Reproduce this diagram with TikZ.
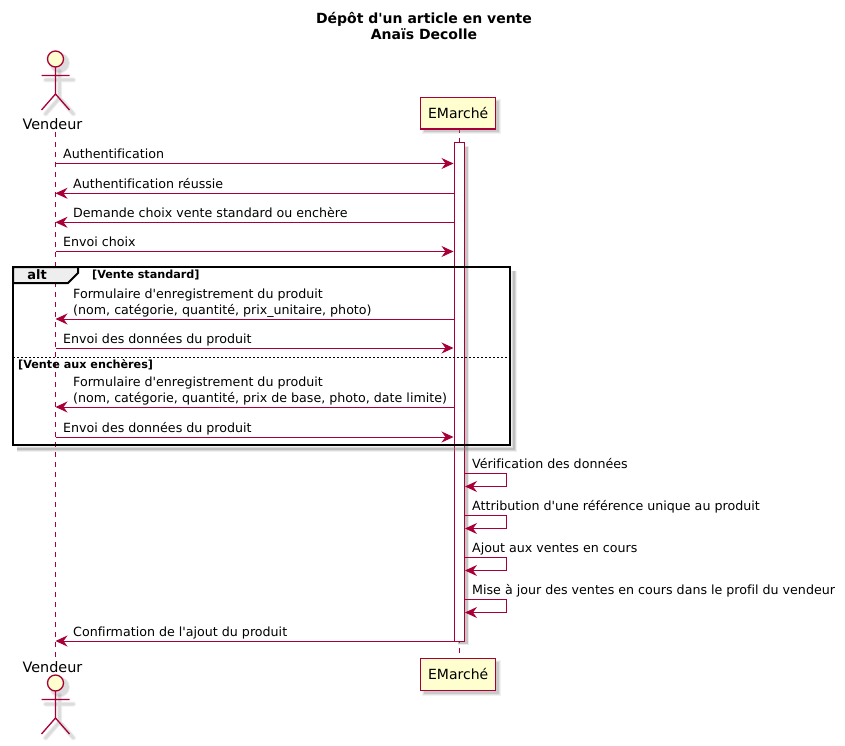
\documentclass[tikz,border=0pt]{standalone}
\usepackage{fontspec}
\usepackage{tikz}
\usetikzlibrary{arrows.meta, positioning}
\newfontfamily\police[Ligatures=NoCommon]{DejaVu Sans}
\definecolor{bordeaux}{HTML}{A80036}
\definecolor{creme}{HTML}{FEFECE}
\definecolor{onglet}{HTML}{EEEEEE}
\tikzset{
	msg/.style={draw=bordeaux, line width=1pt, -{Stealth[length=12pt,width=11pt,inset=4pt]}},
	lifeline/.style={draw=bordeaux, line width=1pt, dash pattern=on 5pt off 5pt},
	txt/.style={font=\police\fontsize{12.65}{16}\selectfont, inner sep=0pt, anchor=base west},
	txtdouble/.style={font=\police\fontsize{12.65}{16}\selectfont, inner sep=0pt, anchor=south west, align=left},
	cadre/.style={font=\police\bfseries\fontsize{11.2}{12}\selectfont, inner sep=0pt, anchor=base west},
	boite/.style={draw=bordeaux, line width=1.3pt, fill=creme},
}
\begin{document}
\begin{tikzpicture}[x=1pt,y=-1pt]
	\useasboundingbox (0,0) rectangle (845,746);
	% Titre
	\node[font=\police\bfseries\fontsize{14}{16}\selectfont, align=center] (titre) at (424,26) {Dépôt d'un article en vente\\Anaïs Decolle};

	% Lignes de vie
	\coordinate (vhaut) at (55.5,132);
	\coordinate (vbas) at (55.5,657);
	\coordinate (ehaut) at (459.5,128);
	\coordinate (ebas) at (459.5,658);
	\draw[lifeline] (vhaut) -- (vbas);
	\draw[lifeline] (ehaut) -- (ebas);

	% Acteur Vendeur, en haut et en bas
	\foreach \nom/\y in {acteurhaut/59, acteurbas/683} {
		\begin{scope}[shift={(55.5,\y)}]
			\foreach \w/\o in {5/0.12, 3/0.18} {
				\fill[gray, opacity=\o] (4,4) circle (8+\w/2);
				\draw[gray, opacity=\o, line width=\w pt, line cap=round] (-10,21) -- (18,21) (4,12) -- (4,39) -- (-10,55) (4,39) -- (18,55);
			}
			\draw[boite] (0,0) circle (8);
			\draw[bordeaux, line width=1.3pt] (0,8) -- (0,35) (-14,16.5) -- (14,16.5) (-14,51) -- (0,35) -- (14,51);
			\coordinate (\nom) at (0,0);
		\end{scope}
	}
	\node[txt, anchor=base, font=\police\fontsize{14.4}{16}\selectfont] (vendeurhaut) at (52.5,130) {Vendeur};
	\node[txt, anchor=base, font=\police\fontsize{14.4}{16}\selectfont] (vendeurbas) at (52.5,672) {Vendeur};

	% Participant EMarché, en haut et en bas
	\foreach \nom/\y in {emarchehaut/97, emarchebas/658} {
		\foreach \w/\o in {4/0.1, 2/0.15, 0/0.25} {
			\fill[gray, opacity=\o] (424-\w/2,\y+4-\w/2) rectangle (499+\w/2,\y+35.5+\w/2);
		}
		\node[boite, minimum width=75pt, minimum height=31.5pt, inner sep=0pt, anchor=north west, font=\police\fontsize{14}{16}\selectfont] (\nom) at (420,\y) {EMarché};
	}

	% Activation
	\foreach \w/\o in {2/0.15, 0/0.35} {
		\fill[gray, opacity=\o] (465,147-\w/2) rectangle (468+\w/2,644+\w/2);
		\fill[gray, opacity=\o] (458,641.5) rectangle (465,644+\w/2);
	}
	\draw[draw=bordeaux, line width=1pt, fill=white] (454.5,143) rectangle (464.5,641);

	% Cadre alt
	\foreach \w/\o in {6/0.12, 4/0.2, 2/0.3} {
		\draw[gray, opacity=\o, line width=\w pt] (510+4,271) -- (510+4,449) -- (17,449);
	}
	\draw[black, line width=2pt] (13,267) rectangle (510,445);
	\draw[black, line width=2pt, fill=onglet] (13,267) -- (78,267) -- (78,273) -- (68,283) -- (13,283) -- cycle;
	\node[font=\police\bfseries\fontsize{13}{16}\selectfont, inner sep=0pt, anchor=base] (alt) at (37,279) {alt};
	\node[cadre] (venteone) at (92,278) {[Vente standard]};
	\coordinate (sepg) at (13,357.5);
	\coordinate (sepd) at (510,357.5);
	\draw[black, line width=1pt, dash pattern=on 2pt off 2pt] (sepg) -- (sepd);
	\node[cadre] (ventetwo) at (18,368) {[Vente aux enchères]};

	% Messages vers EMarché
	\foreach \nom/\y/\txtmsg in {auth/163.5/Authentification, choix/251.5/Envoi choix, donneesone/348/Envoi des données du produit, donneestwo/437/Envoi des données du produit} {
		\coordinate (v\nom) at (55.5,\y);
		\coordinate (e\nom) at (453.5,\y);
		\draw[msg] (v\nom) -- (e\nom);
		\node[txt] (l\nom) at (63,\y-4.8) {\txtmsg};
	}
	% Messages vers Vendeur
	\foreach \nom/\y/\txtmsg in {reussie/193.3/Authentification réussie, demande/222.3/Demande choix vente standard ou enchère, confirmation/641/Confirmation de l'ajout du produit} {
		\coordinate (v\nom) at (55.5,\y);
		\coordinate (e\nom) at (454.5,\y);
		\draw[msg] (e\nom) -- (v\nom);
		\node[txt] (l\nom) at (73,\y-4.8) {\txtmsg};
	}
	% Formulaires sur deux lignes
	\foreach \nom/\y/\txtmsg in {formone/319/{Formulaire d'enregistrement du produit\\(nom, catégorie, quantité, prix\_unitaire, photo)}, formtwo/407/{Formulaire d'enregistrement du produit\\(nom, catégorie, quantité, prix de base, photo, date limite)}} {
		\coordinate (v\nom) at (55.5,\y);
		\coordinate (e\nom) at (454.5,\y);
		\draw[msg] (e\nom) -- (v\nom);
		\node[txtdouble] (l\nom) at (73,\y-1.5) {\txtmsg};
	}
	% Messages de EMarché vers lui-même
	\foreach \nom/\y/\txtmsg in {verif/473/Vérification des données, ref/515/Attribution d'une référence unique au produit, ajout/557/Ajout aux ventes en cours, maj/599/Mise à jour des ventes en cours dans le profil du vendeur} {
		\coordinate (a\nom) at (464.5,\y);
		\coordinate (b\nom) at (506.5,\y);
		\coordinate (c\nom) at (506.5,\y+13.5);
		\coordinate (d\nom) at (465,\y+13.5);
		\draw[msg] (a\nom) -- (b\nom) -- (c\nom) -- (d\nom);
		\node[txt] (l\nom) at (472,\y-5) {\txtmsg};
	}
\end{tikzpicture}
\end{document}
